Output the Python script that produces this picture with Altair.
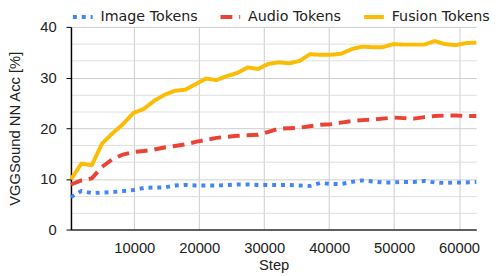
import altair as alt
import pandas as pd

steps = [250, 1850, 3450, 5050, 6650, 8250, 9850, 11450, 13050, 14650,
         16250, 17850, 19450, 21050, 22650, 24250, 25850, 27450, 29050, 30650,
         32250, 33850, 35450, 37050, 38650, 40250, 41850, 43450, 45050, 46650,
         48250, 49850, 51450, 53050, 54650, 56250, 57850, 59450, 61050, 62650]

image_tokens = [6.4, 7.6, 7.2, 7.3, 7.4, 7.6, 7.8, 8.2, 8.3, 8.3,
                8.7, 8.8, 8.7, 8.7, 8.7, 8.8, 8.9, 8.9, 8.8, 8.8,
                8.8, 8.8, 8.7, 8.6, 9.2, 9.0, 9.0, 9.4, 9.7, 9.5,
                9.3, 9.3, 9.4, 9.4, 9.6, 9.3, 9.2, 9.3, 9.3, 9.4]

audio_tokens = [8.9, 9.7, 10.1, 12.4, 13.9, 14.8, 15.3, 15.5, 15.8, 16.2,
                16.5, 16.8, 17.3, 17.7, 18.1, 18.3, 18.5, 18.6, 18.7, 19.3,
                19.9, 20.0, 20.1, 20.4, 20.7, 20.8, 21.1, 21.4, 21.6, 21.7,
                21.9, 22.1, 22.0, 21.9, 22.2, 22.4, 22.5, 22.5, 22.4, 22.4]

fusion_tokens = [9.9, 13.0, 12.7, 17.0, 19.0, 20.8, 23.0, 23.8, 25.4, 26.6,
                 27.4, 27.6, 28.7, 29.8, 29.5, 30.3, 30.9, 32.0, 31.7, 32.7,
                 33.0, 32.8, 33.3, 34.6, 34.5, 34.5, 34.7, 35.6, 36.1, 36.0,
                 36.0, 36.6, 36.5, 36.5, 36.5, 37.2, 36.6, 36.4, 36.8, 36.9]

series_names = ["Image Tokens", "Audio Tokens", "Fusion Tokens"]
series_colors = ["#4285F4", "#EA4335", "#FBBC04"]
series_dashes = [[4, 5], [12, 7], [1, 0]]

x_ticks = [10000, 20000, 30000, 40000, 50000, 60000]
y_grid = [0, 10 / 3, 20 / 3, 10, 40 / 3, 50 / 3, 20, 70 / 3, 80 / 3, 30, 100 / 3, 110 / 3, 40]

rows = []
for name, vals in zip(series_names, [image_tokens, audio_tokens, fusion_tokens]):
    for s, v in zip(steps, vals):
        rows.append({"Step": s, "Value": v, "Series": name})
df = pd.DataFrame(rows)

major = "abs(datum.value % 10) < 0.01"

chart = alt.Chart(df).mark_line(strokeWidth=4, strokeCap="butt", strokeJoin="round").encode(
    x=alt.X("Step:Q",
            scale=alt.Scale(domain=[250, 62650], nice=False, zero=False),
            axis=alt.Axis(title="Step", values=x_ticks, format="d", ticks=False,
                          labelPadding=11, gridColor="#cccccc", domainColor="#333333",
                          domainWidth=1.5, titlePadding=3)),
    y=alt.Y("Value:Q",
            scale=alt.Scale(domain=[0, 40], nice=False),
            axis=alt.Axis(title="VGGSound NN Acc [%]", values=y_grid,
                          labelExpr=major + " ? datum.label : ''",
                          format=".0f",
                          tickOpacity={"condition": {"test": major, "value": 1}, "value": 0},
                          gridColor={"condition": {"test": major, "value": "#cccccc"}, "value": "#dedede"},
                          tickColor="#000000", tickSize=5, domainColor="#000000",
                          domainWidth=1.5, labelPadding=10, titlePadding=18)),
    color=alt.Color("Series:N",
                    scale=alt.Scale(domain=series_names, range=series_colors),
                    legend=alt.Legend(title=None, orient="none", direction="horizontal",
                                      legendX=0, legendY=-22, symbolType="stroke",
                                      symbolSize=400, symbolStrokeWidth=4,
                                      labelFont="DejaVu Sans", labelFontSize=14.5,
                                      labelColor="#222222", columnPadding=15,
                                      symbolOffset=0, labelOffset=6)),
    strokeDash=alt.StrokeDash("Series:N",
                              scale=alt.Scale(domain=series_names, range=series_dashes),
                              legend=None),
).properties(
    width=412, height=206,
    padding={"left": 64, "top": 17, "right": 18, "bottom": 45},
    autosize=alt.AutoSizeParams(type="none"),
).configure_axis(
    labelFont="Liberation Sans", labelFontSize=15, labelColor="#222222",
    titleFont="Liberation Sans", titleFontSize=15, titleFontWeight="normal", titleColor="#222222",
).configure_view(stroke=None)

chart.save("out.html", embed_options={"renderer": "svg", "actions": False})
